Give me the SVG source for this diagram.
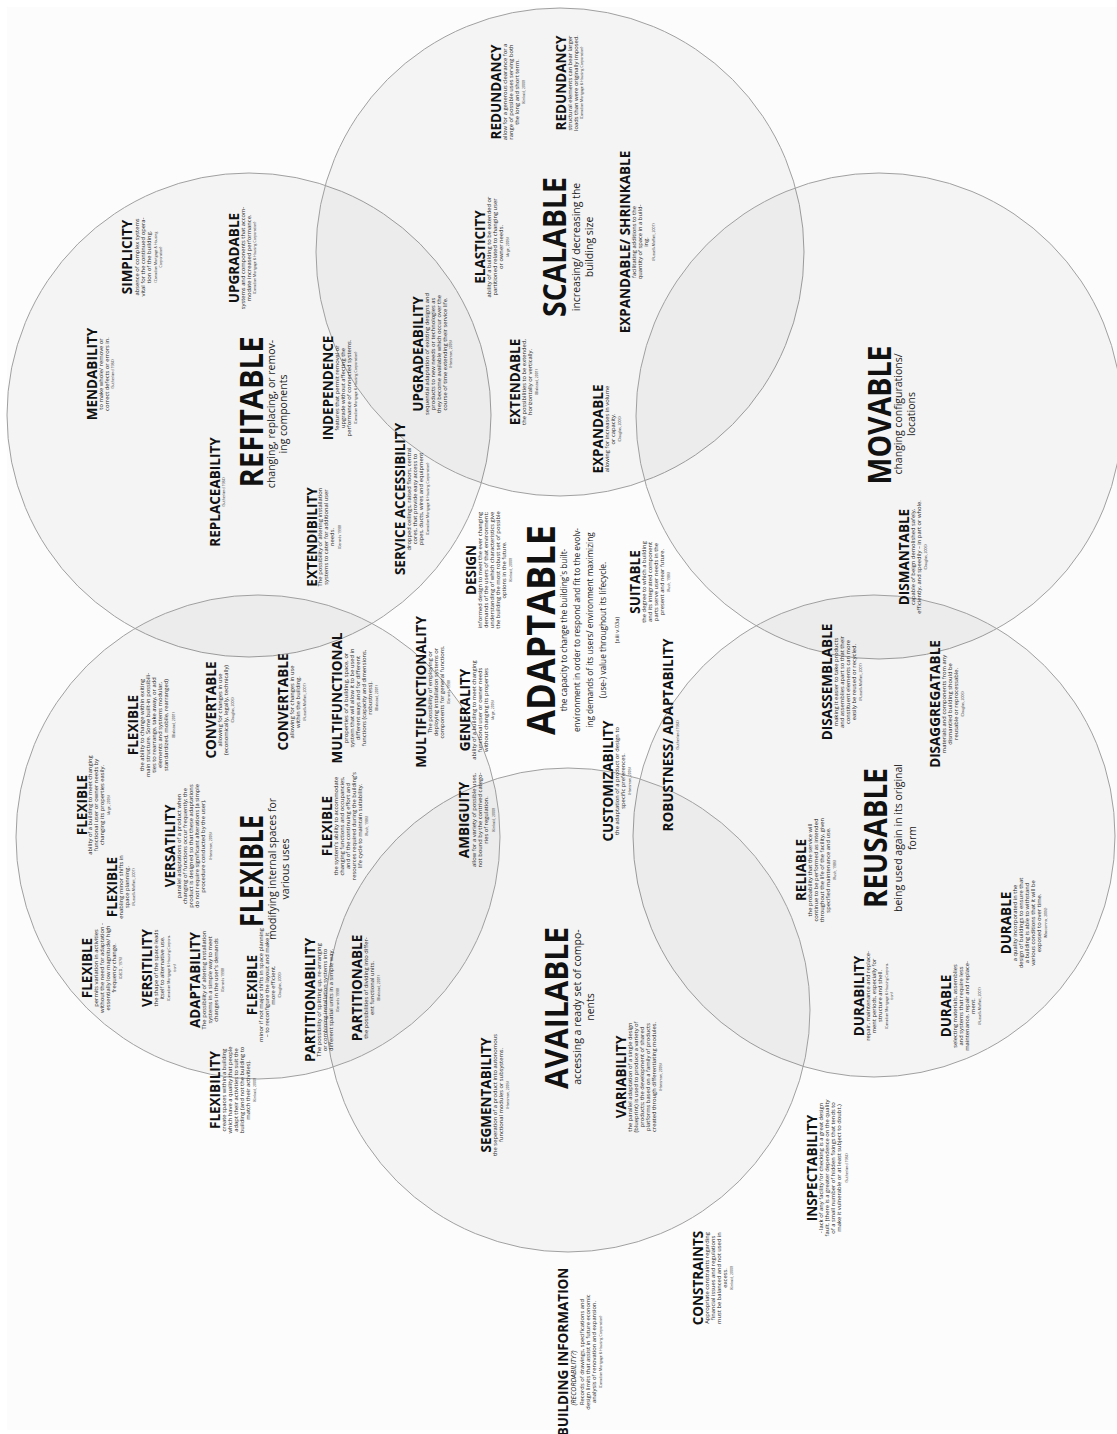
<svg xmlns="http://www.w3.org/2000/svg" width="1117" height="1434" viewBox="0 0 1117 1434">
<style>
text{font-family:"Open Sans","Liberation Sans",sans-serif;text-anchor:middle;fill:#111}
.t{font-size:13.5px;font-weight:700}
.d{font-size:5.8px;fill:#222}
.c{font-size:3.5px;fill:#333}
.B{font-size:33px;font-weight:700}
.s{font-size:10.5px;fill:#222}
.a{font-size:8.3px;fill:#222}
.ci{fill:#000;fill-opacity:.032;stroke:#a0a0a0;stroke-width:1}
</style>
<rect width="1117" height="1434" fill="#fff"/>
<rect x="7" y="7" width="1110" height="1423" fill="#fcfcfc"/>
<g id="circles">
<circle id="c-refitable" class="ci" cx="249" cy="415" r="242"/>
<circle id="c-scalable" class="ci" cx="560" cy="252" r="244"/>
<circle id="c-movable" class="ci" cx="879" cy="416" r="243"/>
<circle id="c-reusable" class="ci" cx="874" cy="836" r="241"/>
<circle id="c-available" class="ci" cx="568" cy="1010" r="242"/>
<circle id="c-flexible" class="ci" cx="258" cy="837" r="242"/>
</g>
<g transform="translate(0 1434) rotate(-90)">
<g id="simplicity"><text x="1177"><tspan class="t" x="1177" y="132">SIMPLICITY</tspan><tspan class="d" x="1177" y="139">absence of complex systems</tspan><tspan class="d" x="1177" y="145">vital for the continued opera-</tspan><tspan class="d" x="1177" y="151">tion of the building.</tspan><tspan class="c" x="1177" y="157">(Canadian Mortgage &amp; Housing</tspan><tspan class="c" x="1177" y="162">Corporation)</tspan></text></g>
<g id="upgradable"><text><tspan class="t" x="1176" y="239">UPGRADABLE</tspan><tspan class="d" x="1176" y="245">systems and components that accom-</tspan><tspan class="d" x="1176" y="251">modate increased performance.</tspan><tspan class="c" x="1176" y="256">(Canadian Mortgage &amp; Housing Corporation)</tspan></text></g>
<g id="mendability"><text><tspan class="t" x="1060" y="97">MENDABILITY</tspan><tspan class="d" x="1060" y="103">to make whole/ remove or</tspan><tspan class="d" x="1060" y="109">correct defects or errors in.</tspan><tspan class="c" x="1060" y="114">(Sutherland 1984)</tspan></text></g>
<g id="refitable"><text><tspan class="B" x="1022" y="263" textLength="151" lengthAdjust="spacingAndGlyphs">REFITABLE</tspan><tspan class="s" x="1020" y="275">changing, replacing, or remov-</tspan><tspan class="s" x="1020" y="287">ing components</tspan></text></g>
<g id="replaceability"><text><tspan class="t" x="942" y="220">REPLACEABILITY</tspan><tspan class="c" x="942" y="225">(Sutherland 1984)</tspan></text></g>
<g id="extendibility"><text><tspan class="t" x="897" y="317">EXTENDIBILITY</tspan><tspan class="d" x="897" y="322">The possibility of altering installation</tspan><tspan class="d" x="897" y="328">systems to cater for additional user</tspan><tspan class="d" x="897" y="334">needs.</tspan><tspan class="c" x="897" y="341">(Gerards 1998)</tspan></text></g>
<g id="independence"><text><tspan class="t" x="1046" y="333">INDEPENDENCE</tspan><tspan class="d" x="1046" y="339">features that permit removal or</tspan><tspan class="d" x="1046" y="345">upgrade without affecting the</tspan><tspan class="d" x="1046" y="351">performance of connected systems.</tspan><tspan class="c" x="1046" y="357">(Canadian Mortgage &amp; Housing Corporation)</tspan></text></g>
<g id="upgradeability"><text><tspan class="t" x="1080" y="423">UPGRADEABILITY</tspan><tspan class="d" x="1080" y="429">sequential adaptation of existing designs and</tspan><tspan class="d" x="1080" y="435">products to new needs or technologies as</tspan><tspan class="d" x="1080" y="441">they become available which occur over the</tspan><tspan class="d" x="1080" y="447">course of time extending their service life.</tspan><tspan class="c" x="1080" y="452">(Hansman, 2005)</tspan></text></g>
<g id="service-accessibility"><text><tspan class="t" x="935" y="405">SERVICE ACCESSIBILITY</tspan><tspan class="d" x="935" y="411">dropped ceilings, raised floors, central</tspan><tspan class="d" x="935" y="417">cores, that provide easy access to</tspan><tspan class="d" x="935" y="423">pipes, ducts, wires and equipment</tspan><tspan class="c" x="935" y="429">(Canadian Mortgage &amp; Housing Corporation)</tspan></text></g>
<g id="elasticity"><text><tspan class="t" x="1187" y="485">ELASTICITY</tspan><tspan class="d" x="1187" y="491">ability of a building to be extended or</tspan><tspan class="d" x="1187" y="497">partitioned related to changing user</tspan><tspan class="d" x="1187" y="503">or owner needs.</tspan><tspan class="c" x="1187" y="509">(Arge, 2005)</tspan></text></g>
<g id="scalable"><text><tspan class="B" x="1187" y="566" textLength="140" lengthAdjust="spacingAndGlyphs">SCALABLE</tspan><tspan class="s" x="1187" y="580">increasing/ decreasing the</tspan><tspan class="s" x="1187" y="593">building size</tspan></text></g>
<g id="redundancy-1"><text><tspan class="t" x="1342" y="501">REDUNDANCY</tspan><tspan class="d" x="1342" y="507">allow for a generous clearance for a</tspan><tspan class="d" x="1342" y="513">range of possible uses serving both</tspan><tspan class="d" x="1342" y="519">the long and short term.</tspan><tspan class="c" x="1342" y="525">(Kinkaid, 2000)</tspan></text></g>
<g id="redundancy-2"><text><tspan class="t" x="1351" y="566">REDUNDANCY</tspan><tspan class="d" x="1351" y="572">structural elements can bear larger</tspan><tspan class="d" x="1351" y="578">loads than were originally imposed.</tspan><tspan class="c" x="1351" y="583">(Canadian Mortgage &amp; Housing Corporation)</tspan></text></g>
<g id="expandable-shrinkable"><text><tspan class="t" x="1192" y="630">EXPANDABLE/ SHRINKABLE</tspan><tspan class="d" x="1192" y="636">facilitating additions to the</tspan><tspan class="d" x="1192" y="642">quantity of space in a build-</tspan><tspan class="d" x="1192" y="648">ing.</tspan><tspan class="c" x="1192" y="655">(Russell+Moffatt, 2001)</tspan></text></g>
<g id="extendable"><text><tspan class="t" x="1052" y="520">EXTENDABLE</tspan><tspan class="d" x="1052" y="526">the possibilities to be extended,</tspan><tspan class="d" x="1052" y="532">horizontally or vertically.</tspan><tspan class="c" x="1052" y="538">(Blakstad, 2001)</tspan></text></g>
<g id="expandable"><text><tspan class="t" x="1005" y="603">EXPANDABLE</tspan><tspan class="d" x="1005" y="609">allowing for increases in volume</tspan><tspan class="d" x="1005" y="615">or capacity.</tspan><tspan class="c" x="1005" y="621">(Douglas, 2006)</tspan></text></g>
<g id="design"><text><tspan class="t" x="864" y="476">DESIGN</tspan><tspan class="d" x="864" y="482">informed design to meet the ever changing</tspan><tspan class="d" x="864" y="488">demands of the users of that environment;</tspan><tspan class="d" x="864" y="494">understanding of which characteristics give</tspan><tspan class="d" x="864" y="500">the building the most robust set of possible</tspan><tspan class="d" x="864" y="506">options in the future.</tspan><tspan class="c" x="864" y="512">(Kinkaid, 2000)</tspan></text></g>
<g id="adaptable"><text><tspan class="B" style="font-size:40px" x="804" y="555" textLength="210" lengthAdjust="spacingAndGlyphs">ADAPTABLE</tspan><tspan class="a" x="804" y="567">the capacity to change the building's built-</tspan><tspan class="a" x="804" y="580">environment in order to respond and fit to the evolv-</tspan><tspan class="a" x="804" y="593">ing demands of its users/ environment maximizing</tspan><tspan class="a" x="804" y="606">(use-) value throughout its lifecycle.</tspan><tspan class="d" x="804" y="619">(xiii v.03a)</tspan></text></g>
<g id="suitable"><text><tspan class="t" x="852" y="640">SUITABLE</tspan><tspan class="d" x="852" y="646">the degree to which a building</tspan><tspan class="d" x="852" y="652">and its integrated component</tspan><tspan class="d" x="852" y="658">parts serve user needs in the</tspan><tspan class="d" x="852" y="664">present and near future.</tspan><tspan class="c" x="852" y="670">(Rush, 1986)</tspan></text></g>
<g id="multifunctionality"><text><tspan class="t" x="742" y="426">MULTIFUNCTIONALITY</tspan><tspan class="d" x="742" y="432">The possibility of employing or</tspan><tspan class="d" x="742" y="438">deploying installation systems or</tspan><tspan class="d" x="742" y="444">components for general functions.</tspan><tspan class="c" x="742" y="450">(Gerards 1998)</tspan></text></g>
<g id="generality"><text><tspan class="t" x="724" y="470">GENERALITY</tspan><tspan class="d" x="724" y="476">ability of a building to meet changing</tspan><tspan class="d" x="724" y="482">functional user or owner needs</tspan><tspan class="d" x="724" y="488">without changing its properties</tspan><tspan class="c" x="724" y="494">(Arge, 2005)</tspan></text></g>
<g id="ambiguity"><text><tspan class="t" x="614" y="469">AMBIGUITY</tspan><tspan class="d" x="614" y="476">allow for a variety of possible uses,</tspan><tspan class="d" x="614" y="482">not bound by the contrived catego-</tspan><tspan class="d" x="614" y="488">ries of regulation.</tspan><tspan class="c" x="614" y="495">(Kinkaid, 2000)</tspan></text></g>
<g id="customizability"><text><tspan class="t" x="653" y="613">CUSTOMIZABILITY</tspan><tspan class="d" x="653" y="619">the adaptation of a product or design to</tspan><tspan class="d" x="653" y="625">specific preferences.</tspan><tspan class="c" x="653" y="631">(Hansman, 2005)</tspan></text></g>
<g id="robustness"><text><tspan class="t" x="699" y="673">ROBUSTNESS/ ADAPTABILITY</tspan><tspan class="c" x="699" y="679">(Sutherland 1984)</tspan></text></g>
<g id="movable"><text><tspan class="B" x="1019" y="891" textLength="139" lengthAdjust="spacingAndGlyphs">MOVABLE</tspan><tspan class="s" x="1020" y="902">changing configurations/</tspan><tspan class="s" x="1020" y="915">locations</tspan></text></g>
<g id="dismantable"><text><tspan class="t" x="877" y="909">DISMANTABLE</tspan><tspan class="d" x="877" y="915">capable of beign demolished safely,</tspan><tspan class="d" x="877" y="921">efficiently, and speedily – in part or whole.</tspan><tspan class="c" x="877" y="927">(Douglas, 2006)</tspan></text></g>
<g id="disassemblable"><text><tspan class="t" x="752" y="832">DISASSEMBLABLE</tspan><tspan class="d" x="752" y="838">making it easier to take products</tspan><tspan class="d" x="752" y="844">and assemblies apart so that their</tspan><tspan class="d" x="752" y="850">constituent elements can more</tspan><tspan class="d" x="752" y="856">easily be reused or recycled.</tspan><tspan class="c" x="752" y="862">(Russell+Moffatt, 2001)</tspan></text></g>
<g id="disaggregatable"><text><tspan class="t" x="730" y="940">DISAGGREGATABLE</tspan><tspan class="d" x="730" y="946">materials and components from any</tspan><tspan class="d" x="730" y="952">dismantled building should be</tspan><tspan class="d" x="730" y="958">reusable or reprocessable.</tspan><tspan class="c" x="730" y="964">(Douglas, 2006)</tspan></text></g>
<g id="reusable"><text><tspan class="B" x="596" y="887" textLength="140" lengthAdjust="spacingAndGlyphs">REUSABLE</tspan><tspan class="s" x="596" y="902">being used again in its original</tspan><tspan class="s" x="596" y="916">form</tspan></text></g>
<g id="reliable"><text><tspan class="t" x="564" y="806">RELIABLE</tspan><tspan class="d" x="564" y="812">the probability that the service will</tspan><tspan class="d" x="564" y="818">continue to be performed as intended</tspan><tspan class="d" x="564" y="824">throughout the life of the facility, given</tspan><tspan class="d" x="564" y="830">specified maintenance and use.</tspan><tspan class="c" x="564" y="836">(Rush, 1986)</tspan></text></g>
<g id="durability"><text><tspan class="t" x="438" y="864">DURABILITY</tspan><tspan class="d" x="438" y="870">repair, maintenance and replace-</tspan><tspan class="d" x="438" y="876">ment periods, especially for</tspan><tspan class="d" x="438" y="882">structure and shell.</tspan><tspan class="c" x="438" y="888">(Canadian Mortgage &amp; Housing Corpora-</tspan><tspan class="c" x="438" y="893">tion)</tspan></text></g>
<g id="durable-1"><text><tspan class="t" x="428" y="951">DURABLE</tspan><tspan class="d" x="428" y="957">selecting materials, assemblies</tspan><tspan class="d" x="428" y="963">and systems that require less</tspan><tspan class="d" x="428" y="969">maintenance, repair and replace-</tspan><tspan class="d" x="428" y="975">ment.</tspan><tspan class="c" x="428" y="981">(Russell+Moffatt, 2001)</tspan></text></g>
<g id="durable-2"><text><tspan class="t" x="511" y="1011">DURABLE</tspan><tspan class="d" x="511" y="1017">a quality incorporated in the</tspan><tspan class="d" x="511" y="1023">design of buildings to ensure that</tspan><tspan class="d" x="511" y="1029">a building is able to withstand</tspan><tspan class="d" x="511" y="1035">various conditions that it will be</tspan><tspan class="d" x="511" y="1041">exposed to over time.</tspan><tspan class="c" x="511" y="1047">(Maccomna , 2006)</tspan></text></g>
<g id="available"><text><tspan class="B" x="426" y="568" textLength="162" lengthAdjust="spacingAndGlyphs">AVAILABLE</tspan><tspan class="s" x="427" y="581">accessing a ready set of compo-</tspan><tspan class="s" x="427" y="594">nents</tspan></text></g>
<g id="segmentability"><text><tspan class="t" x="339" y="491">SEGMENTABILITY</tspan><tspan class="d" x="339" y="497">the seperation of a product into autonomous</tspan><tspan class="d" x="339" y="503">functional modules or subsystems.</tspan><tspan class="c" x="339" y="509">(Hansman, 2005)</tspan></text></g>
<g id="variability"><text><tspan class="t" x="357" y="626">VARIABILITY</tspan><tspan class="d" x="357" y="632">the parallel adaptation of a single design</tspan><tspan class="d" x="357" y="638">(blueprint) is used to produce a variety of</tspan><tspan class="d" x="357" y="644">products; the development of shared</tspan><tspan class="d" x="357" y="650">platforms based on a family of products</tspan><tspan class="d" x="357" y="656">created through differentiating modules.</tspan><tspan class="c" x="357" y="662">(Hansman, 2005)</tspan></text></g>
<g id="flexible-1"><text><tspan class="t" x="629" y="87">FLEXIBLE</tspan><tspan class="d" x="629" y="92">ability of a building to meet changing</tspan><tspan class="d" x="629" y="98">functional user or owner needs by</tspan><tspan class="d" x="629" y="104">changing its properties easily.</tspan><tspan class="c" x="629" y="110">(Arge, 2005)</tspan></text></g>
<g id="flexible-2"><text><tspan class="t" x="709" y="138">FLEXIBLE</tspan><tspan class="d" x="709" y="144">the ability to change within exiting</tspan><tspan class="d" x="709" y="150">main structure. Some built-in possibili-</tspan><tspan class="d" x="709" y="156">ties to rearrange, take away, or add</tspan><tspan class="d" x="709" y="162">elements and systems modular,</tspan><tspan class="d" x="709" y="168">standardized, mobile, rearranged)</tspan><tspan class="c" x="709" y="175">(Blakstad, 2001)</tspan></text></g>
<g id="convertable-1"><text><tspan class="t" x="724" y="216">CONVERTABLE</tspan><tspan class="d" x="724" y="222">allowing for changes in use</tspan><tspan class="d" x="724" y="228">(economically, legally, technically)</tspan><tspan class="c" x="724" y="234">(Douglas, 2006)</tspan></text></g>
<g id="convertable-2"><text><tspan class="t" x="732" y="288">CONVERTABLE</tspan><tspan class="d" x="732" y="294">allowing for changes in use</tspan><tspan class="d" x="732" y="300">within the building.</tspan><tspan class="c" x="732" y="306">(Russell+Moffatt, 2001)</tspan></text></g>
<g id="multifunctional"><text><tspan class="t" x="736" y="342">MULTIFUNCTIONAL</tspan><tspan class="d" x="736" y="348">properties of a building, space, or</tspan><tspan class="d" x="736" y="354">system that will allow it to be used in</tspan><tspan class="d" x="736" y="360">different ways and for different</tspan><tspan class="d" x="736" y="366">functions (capacity and dimensions,</tspan><tspan class="d" x="736" y="372">robustness).</tspan><tspan class="c" x="736" y="378">(Blakstad, 2001)</tspan></text></g>
<g id="versatility"><text><tspan class="t" x="588" y="175">VERSATILITY</tspan><tspan class="d" x="588" y="181">parallel adaptations of a product when</tspan><tspan class="d" x="588" y="187">changing of functions occur frequently; the</tspan><tspan class="d" x="588" y="193">product is designed so that these adaptations</tspan><tspan class="d" x="588" y="199">do not require significant alterations (a simple</tspan><tspan class="d" x="588" y="205">procedure conducted by the user).</tspan><tspan class="c" x="588" y="212">(Hansman, 2005)</tspan></text></g>
<g id="flexible-3"><text><tspan class="t" x="547" y="117">FLEXIBLE</tspan><tspan class="d" x="547" y="123">enabling minor shifts in</tspan><tspan class="d" x="547" y="129">space planning.</tspan><tspan class="c" x="547" y="135">(Russell+Moffatt, 2001)</tspan></text></g>
<g id="flexible"><text><tspan class="B" x="563" y="263" textLength="112" lengthAdjust="spacingAndGlyphs">FLEXIBLE</tspan><tspan class="s" x="565" y="276">modifying internal spaces for</tspan><tspan class="s" x="565" y="289">various uses</tspan></text></g>
<g id="flexible-4"><text><tspan class="t" x="466" y="92">FLEXIBLE</tspan><tspan class="d" x="466" y="98">permits variation in activities</tspan><tspan class="d" x="466" y="104">without the need for adaptation -</tspan><tspan class="d" x="466" y="110">essentially low magnitude/ high</tspan><tspan class="d" x="466" y="116">frequency change.</tspan><tspan class="c" x="466" y="122">(OECD , 1976)</tspan></text></g>
<g id="versitility"><text><tspan class="t" x="466" y="152">VERSITILITY</tspan><tspan class="d" x="466" y="158">the shape of the space leads</tspan><tspan class="d" x="466" y="164">itself to alternative use.</tspan><tspan class="c" x="466" y="170">(Canadian Mortgage &amp; Housing Corpora-</tspan><tspan class="c" x="466" y="176">tion)</tspan></text></g>
<g id="adaptability"><text><tspan class="t" x="454" y="200">ADAPTABILITY</tspan><tspan class="d" x="454" y="206">The possibility of altering installation</tspan><tspan class="d" x="454" y="212">systems in a simple way to meet</tspan><tspan class="d" x="454" y="218">changes in the user's demands</tspan><tspan class="c" x="454" y="224">(Gerards 1998)</tspan></text></g>
<g id="flexible-5"><text><tspan class="t" x="449" y="257">FLEXIBLE</tspan><tspan class="d" x="449" y="263">minor if not major shifts in space planning</tspan><tspan class="d" x="449" y="269">– to reconfigure the layout and make it</tspan><tspan class="d" x="449" y="275">more efficient.</tspan><tspan class="c" x="449" y="281">(Douglas, 2006)</tspan></text></g>
<g id="flexible-6"><text><tspan class="t" x="608" y="332">FLEXIBLE</tspan><tspan class="d" x="608" y="338">the system's ability to accommodate</tspan><tspan class="d" x="608" y="344">changing functions and occupancies,</tspan><tspan class="d" x="608" y="350">and of the continuing effort and</tspan><tspan class="d" x="608" y="356">resources required during the building's</tspan><tspan class="d" x="608" y="362">life cycle to maintain suitability.</tspan><tspan class="c" x="608" y="368">(Rush, 1986)</tspan></text></g>
<g id="partitionability"><text><tspan class="t" x="434" y="315">PARTITIONABILITY</tspan><tspan class="d" x="434" y="321">The possibility of splitting up, re-arranging</tspan><tspan class="d" x="434" y="327">or combining installation systems into</tspan><tspan class="d" x="434" y="333">different spatial units in a simple way.</tspan><tspan class="c" x="434" y="339">(Gerards 1998)</tspan></text></g>
<g id="partitionable"><text><tspan class="t" x="446" y="362">PARTITIONABLE</tspan><tspan class="d" x="446" y="368">the possibilities of dividing into differ-</tspan><tspan class="d" x="446" y="374">ent functional units.</tspan><tspan class="c" x="446" y="380">(Blakstad, 2001)</tspan></text></g>
<g id="flexibility"><text><tspan class="t" x="344" y="220">FLEXIBILITY</tspan><tspan class="d" x="344" y="226">create spaces within a building</tspan><tspan class="d" x="344" y="232">which have a quality that people</tspan><tspan class="d" x="344" y="238">adapt their activities to suit the</tspan><tspan class="d" x="344" y="244">building (and not the building to</tspan><tspan class="d" x="344" y="250">match their activities).</tspan><tspan class="c" x="344" y="256">(Kinkaid, 2000)</tspan></text></g>
<g id="building-information"><text><tspan class="t" x="82" y="568">BUILDING INFORMATION</tspan><tspan class="d" style="font-style:italic;font-size:7px" x="56" y="576">(RECORDABILITY?)</tspan><tspan class="d" x="82" y="584">Records of drawings, specifications and</tspan><tspan class="d" x="82" y="590">design limits that assist in future economic</tspan><tspan class="d" x="82" y="596">analysis of renovation and expansion.</tspan><tspan class="c" x="82" y="602">(Canadian Mortgage &amp; Housing Corporation)</tspan></text></g>
<g id="constraints"><text><tspan class="t" x="156" y="703">CONSTRAINTS</tspan><tspan class="d" x="156" y="709">Appropriate constraints regarding</tspan><tspan class="d" x="156" y="715">financial issues and regulations</tspan><tspan class="d" x="156" y="721">must be balanced and not used in</tspan><tspan class="d" x="156" y="727">excess.</tspan><tspan class="c" x="156" y="733">(Kinkaid, 2000)</tspan></text></g>
<g id="inspectability"><text><tspan class="t" x="266" y="817">INSPECTABILITY</tspan><tspan class="d" x="266" y="823">-  lack of any facility for checking is a great design</tspan><tspan class="d" x="266" y="829">fault. (there is a greater dependence on the quality</tspan><tspan class="d" x="266" y="835">of a small number of hidden fixings that tends to</tspan><tspan class="d" x="266" y="841">make it vulnerable or at least subject to doubt.)</tspan><tspan class="c" x="266" y="848">(Sutherland 1984)</tspan></text></g>
</g>
</svg>
